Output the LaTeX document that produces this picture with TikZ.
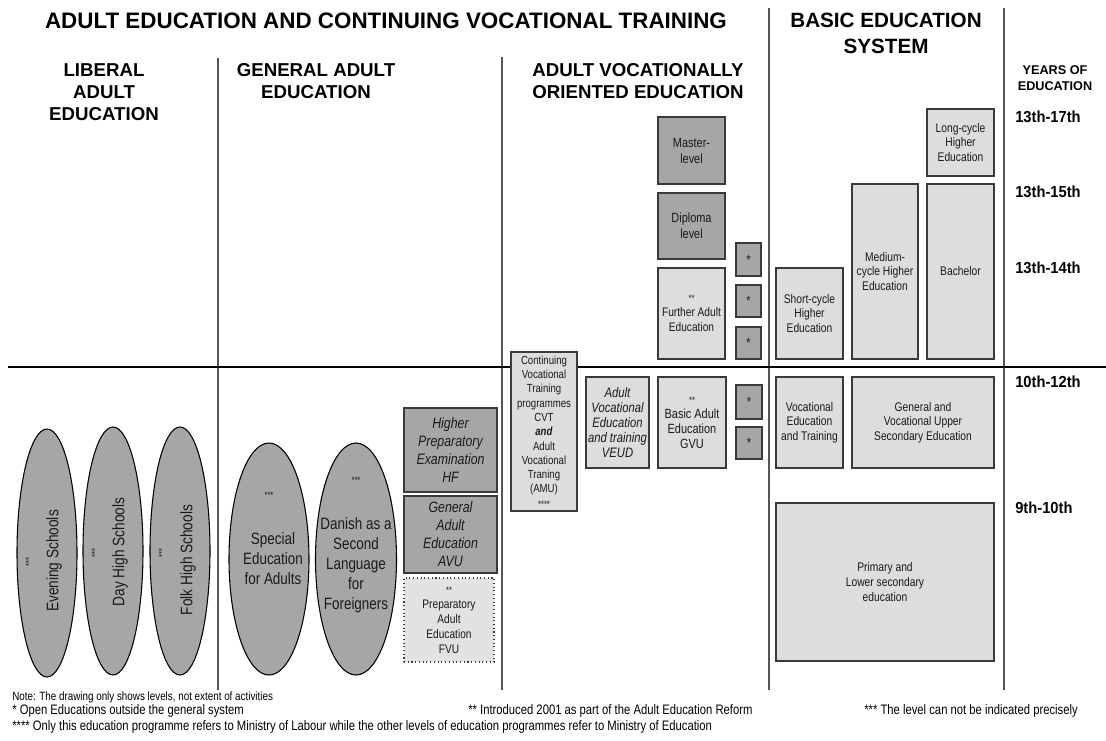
\documentclass[tikz,border=0pt]{standalone}
\usepackage{fontspec}
\setmainfont{Liberation Sans}
\newfontfamily\nar[FakeStretch=0.82]{Liberation Sans}
\newfontfamily\narb[FakeStretch=0.92]{Liberation Sans}
\usetikzlibrary{shapes.geometric}
\definecolor{dk}{HTML}{A6A6A6}
\definecolor{lt}{HTML}{DDDDDD}
\definecolor{fv}{HTML}{E2E2E2}
\definecolor{edge}{HTML}{3A3A3A}
\definecolor{txt}{HTML}{1A1A1A}
\definecolor{sep}{HTML}{555555}
\newcommand\bx[7]{\node[#6, minimum width={(#4-#2)*0.75pt}, minimum height={(#5-#3)*0.75pt}] (#1) at ({(#2+#4)/2},{(#3+#5)/2}) {#7};}
\newcommand\stx{\fontsize{7}{8}\selectfont}
\tikzset{
  dbox/.style={draw=edge, fill=dk, line width=1pt, inner sep=0pt, align=center, text=txt},
  lbox/.style={draw=edge, fill=lt, line width=1pt, inner sep=0pt, align=center, text=txt},
  fbox/.style={draw=edge, fill=fv, line width=0.8pt, dotted, inner sep=0pt, align=center, text=txt},
  oval/.style={ellipse, draw=black, fill=dk, line width=0.8pt, inner sep=0pt},
  head/.style={font=\bfseries\fontsize{14}{16.5}\selectfont, align=center, inner sep=0pt},
  yr/.style={font=\narb\bfseries\fontsize{12}{14}\selectfont, anchor=west, inner sep=0pt},
  sm/.style={font=\nar\fontsize{9.4}{11}\selectfont},
  md/.style={font=\nar\fontsize{10}{12}\selectfont},
  itl/.style={font=\nar\itshape\fontsize{11.3}{13.5}\selectfont},
  ovt/.style={font=\nar\fontsize{12.3}{15}\selectfont, align=center, inner sep=0pt, text=txt},
  rot/.style={font=\nar\fontsize{12.5}{15}\selectfont, rotate=90, inner sep=0pt, text=txt},
  rst/.style={font=\nar\fontsize{7}{8}\selectfont, rotate=90, inner sep=0pt, text=txt},
  ost/.style={font=\nar\fontsize{7}{8}\selectfont, inner sep=0pt, text=txt},
  note/.style={font=\nar\fontsize{10.3}{12}\selectfont, anchor=west, inner sep=0pt},
  sepline/.style={draw=sep, line width=1.1pt},
  hline/.style={draw=black, line width=1.1pt}
}
\begin{document}
\begin{tikzpicture}[x=0.75pt,y=-0.75pt]
\useasboundingbox (0,0) rectangle (1106,740);
% separator lines
\coordinate (v1t) at (218,58); \coordinate (v1b) at (218,690);
\coordinate (v2t) at (502,57); \coordinate (v2b) at (502,690);
\coordinate (v3t) at (769,8);  \coordinate (v3b) at (769,690);
\coordinate (v4t) at (1004,8); \coordinate (v4b) at (1004,690);
\coordinate (hl) at (8,367);   \coordinate (hr) at (1106,367);
\draw[sepline] (v1t) -- (v1b);
\draw[sepline] (v2t) -- (v2b);
\draw[sepline] (v3t) -- (v3b);
\draw[sepline] (v4t) -- (v4b);
\draw[hline] (hl) -- (hr);
% headers
\node[head, font=\bfseries\fontsize{16.8}{18}\selectfont] (title) at (386,21) {ADULT EDUCATION AND CONTINUING VOCATIONAL TRAINING};
\node[head, font=\bfseries\fontsize{15.5}{19.5}\selectfont] (basic) at (886,33) {BASIC EDUCATION\\SYSTEM};
\node[head] (lib) at (104,92) {LIBERAL\\ADULT\\EDUCATION};
\node[head] (gen) at (316,81) {GENERAL ADULT\\EDUCATION};
\node[head] (voc) at (638,81) {ADULT VOCATIONALLY\\ORIENTED EDUCATION};
\node[head, font=\bfseries\fontsize{9.5}{12}\selectfont] (years) at (1055,78) {YEARS OF\\EDUCATION};
% year labels
\node[yr] (y1) at (1015,117) {13th-17th};
\node[yr] (y2) at (1015,192) {13th-15th};
\node[yr] (y3) at (1015,268) {13th-14th};
\node[yr] (y4) at (1015,382) {10th-12th};
\node[yr] (y5) at (1015,508) {9th-10th};
% liberal ellipses
\node[oval, minimum width=60*0.75pt, minimum height=248*0.75pt] (eve) at (47,553) {};
\node[oval, minimum width=60*0.75pt, minimum height=248*0.75pt] (day) at (113,551) {};
\node[oval, minimum width=60*0.75pt, minimum height=248*0.75pt] (folk) at (180,551) {};
\node[rst] (eves) at (29,562) {***};
\node[rot] (evet) at (54,561) {Evening Schools};
\node[rst] (days) at (95,553) {***};
\node[rot] (dayt) at (120,552) {Day High Schools};
\node[rst] (folks) at (162,553) {***};
\node[rot] (folkt) at (188,560) {Folk High Schools};
% general ellipses
\node[oval, minimum width=80*0.75pt, minimum height=232*0.75pt] (spec) at (269,559) {};
\node[oval, minimum width=81*0.75pt, minimum height=232*0.75pt] (dan) at (356,559) {};
\node[ost] (specs) at (269,495) {***};
\node[ovt] (spect) at (273,559) {Special\\Education\\for Adults};
\node[ost] (dans) at (356,480) {***};
\node[ovt] (dant) at (356,565) {Danish as a\\Second\\Language\\for\\Foreigners};
% general boxes
\bx{hf}{404}{408}{497}{492}{dbox,itl}{Higher\\Preparatory\\Examination\\HF}
\bx{avu}{404}{496}{497}{573}{dbox,itl}{General\\Adult\\Education\\AVU}
\bx{fvu}{404}{578}{494}{662}{fbox,font=\nar\fontsize{9.3}{11.25}\selectfont}{{\stx **}\\Preparatory\\Adult\\Education\\FVU}
% vocational boxes
\bx{cvt}{511}{352}{577}{511}{lbox,font=\nar\fontsize{8.8}{10.7}\selectfont}{Continuing\\Vocational\\Training\\programmes\\CVT\\\textbf{\itshape and}\\Adult\\Vocational\\Traning\\(AMU)\\{\stx ****}}
\bx{veud}{586}{377}{649}{468}{lbox,font=\nar\itshape\fontsize{10.3}{11.25}\selectfont}{Adult\\Vocational\\Education\\and training\\VEUD}
\bx{gvu}{658}{377}{726}{468}{lbox,font=\nar\fontsize{10}{11.25}\selectfont}{{\stx **}\\Basic Adult\\Education\\GVU}
\bx{master}{658}{117}{725}{184}{dbox,md}{Master-\\level}
\bx{dipl}{658}{193}{725}{259}{dbox,md}{Diploma\\level}
\bx{fae}{658}{268}{725}{359}{lbox,font=\nar\fontsize{9.3}{11.25}\selectfont}{{\stx **}\\Further Adult\\Education}
\bx{s1}{736}{243}{761}{276}{dbox,md}{*}
\bx{s2}{736}{285}{761}{317}{dbox,md}{*}
\bx{s3}{736}{327}{761}{359}{dbox,md}{*}
\bx{s4}{736}{385}{762}{419}{dbox,md}{*}
\bx{s5}{736}{427}{762}{459}{dbox,md}{*}
% basic education boxes
\bx{long}{927}{109}{994}{176}{lbox,sm}{Long-cycle\\Higher\\Education}
\bx{medium}{852}{184}{918}{359}{lbox,sm}{Medium-\\cycle Higher\\Education}
\bx{bach}{927}{184}{994}{359}{lbox,sm}{Bachelor}
\bx{short}{776}{268}{843}{359}{lbox,sm}{Short-cycle\\Higher\\Education}
\bx{vet}{776}{377}{843}{468}{lbox,sm}{Vocational\\Education\\and Training}
\bx{upper}{852}{377}{994}{468}{lbox,sm}{General and\\Vocational Upper\\Secondary Education}
\bx{prim}{776}{503}{994}{661}{lbox,sm}{Primary and\\Lower secondary\\education}
% notes
\node[note, font=\nar\fontsize{9}{10}\selectfont] (n0) at (12,697) {Note: The drawing only shows levels, not extent of activities};
\node[note] (n1) at (12,711) {* Open Educations outside the general system};
\node[note] (n2) at (468,711) {** Introduced 2001 as part of the Adult Education Reform};
\node[note] (n3) at (864,711) {*** The level can not be indicated precisely};
\node[note] (n4) at (12,727) {**** Only this education programme refers to Ministry of Labour while the other levels of education programmes refer to Ministry of Education};
\end{tikzpicture}
\end{document}
